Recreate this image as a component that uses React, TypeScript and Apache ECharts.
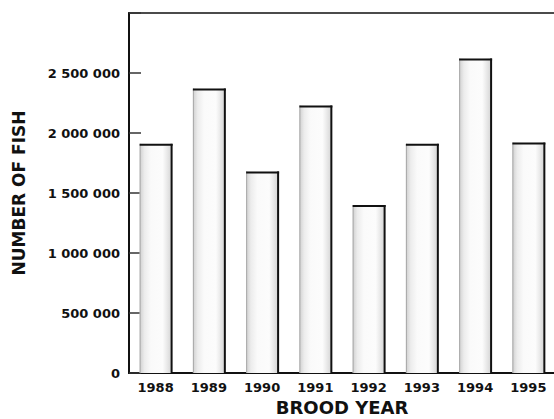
import React, { useEffect, useRef } from "react";
import * as echarts from "echarts";

// Brood years and fish counts per year
const broodYears: string[] = ["1988", "1989", "1990", "1991", "1992", "1993", "1994", "1995"];
const fishCounts: number[] = [1910000, 2370000, 1680000, 2230000, 1400000, 1910000, 2620000, 1920000];
const yTickValues: number[] = [0, 500000, 1000000, 1500000, 2000000, 2500000];

const FONT = "'DejaVu Sans', 'Liberation Sans', Arial, sans-serif";

// "2500000" -> "2 500 000"
function spaced(v: number): string {
  return String(v).replace(/\B(?=(\d{3})+(?!\d))/g, " ");
}

export default function App() {
  const ref = useRef<HTMLDivElement>(null);

  useEffect(() => {
    if (!ref.current) return;
    const chart = echarts.init(ref.current, undefined, { renderer: "svg" });

    // Stippled bar: pale body with grey edge strips, dark top and right edges
    const renderBar = (params: any, api: any) => {
      const idx = api.value(0);
      const val = api.value(1);
      const top = api.coord([idx, val]);
      const base = api.coord([idx, 0]);
      const band = api.size([1, 0])[0];
      const w = band * 0.6;
      const x0 = top[0] - w / 2;
      const x1 = top[0] + w / 2;
      const y0 = top[1];
      const y1 = base[1];
      return {
        type: "group",
        children: [
          {
            type: "rect",
            shape: { x: x0, y: y0, width: w, height: y1 - y0 },
            style: {
              fill: new echarts.graphic.LinearGradient(0, 0, 1, 0, [
                { offset: 0, color: "#cfcfcf" },
                { offset: 0.15, color: "#ececec" },
                { offset: 0.35, color: "#fafafa" },
                { offset: 0.72, color: "#fcfcfc" },
                { offset: 0.88, color: "#e6e6e6" },
                { offset: 1, color: "#d4d4d4" },
              ]),
              stroke: null,
            },
          },
          {
            type: "line",
            shape: { x1: x0 + 0.5, y1: y0, x2: x0 + 0.5, y2: y1 },
            style: { stroke: "#a8a8a8", lineWidth: 1 },
          },
          {
            type: "line",
            shape: { x1: x1, y1: y0, x2: x1, y2: y1 },
            style: { stroke: "#111", lineWidth: 2 },
          },
          {
            type: "line",
            shape: { x1: x0, y1: y0 + 1, x2: x1 + 1, y2: y0 + 1 },
            style: { stroke: "#111", lineWidth: 2 },
          },
        ],
      };
    };

    chart.setOption({
      animation: false,
      backgroundColor: "#ffffff",
      grid: {
        left: 129,
        top: 13,
        width: 426,
        bottom: 46,
        show: true,
        borderColor: "#111",
        borderWidth: 1.5,
        containLabel: false,
        outerBoundsMode: "none",
      },
      xAxis: {
        type: "category",
        data: broodYears,
        name: "BROOD YEAR",
        nameLocation: "middle",
        nameGap: 25,
        nameTextStyle: {
          fontFamily: FONT,
          fontWeight: "bold",
          fontSize: 18,
          color: "#111",
          verticalAlign: "top",
        },
        axisLine: { lineStyle: { color: "#111", width: 2 } },
        axisTick: { show: false },
        axisLabel: {
          fontFamily: FONT,
          fontWeight: "bold",
          fontSize: 13,
          color: "#111",
          margin: 8,
        },
        splitLine: { show: false },
      },
      yAxis: {
        type: "value",
        min: 0,
        max: 3000000,
        interval: 500000,
        name: "NUMBER OF FISH",
        nameLocation: "middle",
        nameRotate: 90,
        nameGap: 102,
        nameTextStyle: {
          fontFamily: FONT,
          fontWeight: "bold",
          fontSize: 17,
          color: "#111",
        },
        axisLine: { show: true, lineStyle: { color: "#111", width: 2 } },
        axisTick: { show: true, inside: true, length: 12, lineStyle: { color: "#333", width: 1.5 } },
        axisLabel: {
          fontFamily: FONT,
          fontWeight: "bold",
          fontSize: 13,
          color: "#111",
          margin: 9,
          formatter: (v: number) => (yTickValues.includes(v) ? spaced(v) : ""),
        },
        splitLine: { show: false },
      },
      series: [
        {
          type: "custom",
          renderItem: renderBar,
          encode: { x: 0, y: 1 },
          data: broodYears.map((y, i) => [i, fishCounts[i]]),
          z: 1,
        },
      ],
    });

    return () => chart.dispose();
  }, []);

  return (
    <div
      ref={ref}
      style={{ position: "fixed", left: 0, top: 0, width: 554, height: 419, background: "#fff" }}
    />
  );
}
